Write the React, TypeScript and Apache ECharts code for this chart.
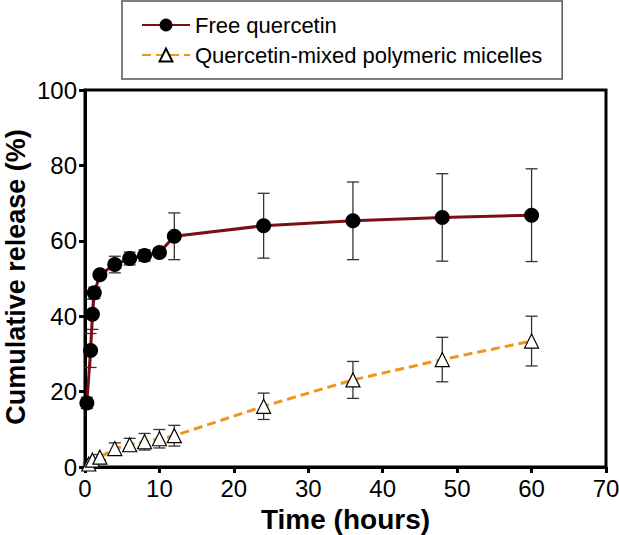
import React, { useEffect, useRef } from "react";
import * as echarts from "echarts";

const freeTimes = [0.25, 0.75, 1, 1.25, 2, 4, 6, 8, 10, 12, 24, 36, 48, 60];
const freeValues = [17, 30.9, 40.5, 46.2, 51, 53.7, 55.3, 56.1, 56.9, 61.2, 64.0, 65.3, 66.2, 66.8];
const freeErrors = [1.5, 4.5, 4, 1.5, 1, 2.2, 1.7, 1.5, 1.1, 6.2, 8.6, 10.3, 11.6, 12.3];

const micTimes = [0.5, 1, 2, 4, 6, 8, 10, 12, 24, 36, 48, 60];
const micValues = [0.8, 1.8, 2.6, 4.9, 5.9, 6.7, 7.5, 8.3, 16.1, 23.1, 28.5, 33.4];
const micErrors = [0.3, 0.4, 0.7, 1.5, 1.7, 2.2, 2.45, 2.75, 3.5, 4.9, 5.9, 6.6];

const xTicks = { min: 0, max: 70, interval: 10 };
const yTicks = { min: 0, max: 100, interval: 20 };

const seriesNames = ["Free quercetin", "Quercetin-mixed polymeric micelles"];
const xTitle = "Time (hours)";
const yTitle = "Cumulative release (%)";
const FONT = "'Liberation Sans', Arial, sans-serif";

function errorData(times: number[], vals: number[], errs: number[]) {
  return times.map((t, i) => [t, vals[i] - errs[i], vals[i] + errs[i]]);
}

function errorRender(params: any, api: any) {
  const x = api.value(0);
  const lo = api.value(1);
  const hi = api.value(2);
  const top = api.coord([x, hi]);
  const bot = api.coord([x, lo]);
  const hw = 6;
  const style = { stroke: "#333", lineWidth: 1.3 };
  return {
    type: "group",
    children: [
      { type: "line", shape: { x1: top[0], y1: top[1], x2: bot[0], y2: bot[1] }, style },
      { type: "line", shape: { x1: top[0] - hw, y1: top[1], x2: top[0] + hw, y2: top[1] }, style },
      { type: "line", shape: { x1: bot[0] - hw, y1: bot[1], x2: bot[0] + hw, y2: bot[1] }, style },
    ],
  };
}

export default function App() {
  const ref = useRef<HTMLDivElement>(null);
  useEffect(() => {
    if (!ref.current) return;
    const chart = echarts.init(ref.current, undefined, { renderer: "svg" });
    chart.setOption({
      animation: false,
      backgroundColor: "#fff",
      textStyle: { fontFamily: FONT },
      graphic: [
        {
          type: "text",
          x: 16,
          y: 277,
          rotation: Math.PI / 2,
          style: {
            text: yTitle,
            fontSize: 27,
            fontWeight: "bold",
            fontFamily: FONT,
            fill: "#000",
            align: "center",
            verticalAlign: "middle",
          },
        },
      ],
      legend: {
        data: seriesNames,
        orient: "vertical",
        left: 122,
        top: 1,
        itemWidth: 48,
        itemHeight: 16,
        itemGap: 8,
        padding: [13, 20, 13, 19],
        borderColor: "#555",
        borderWidth: 1.5,
        backgroundColor: "#fff",
        textStyle: { fontSize: 22, color: "#000", fontFamily: FONT },
      },
      grid: {
        left: 85,
        right: 13,
        top: 90,
        bottom: 68,
        outerBoundsMode: "none",
        containLabel: false,
        show: true,
        borderColor: "#000",
        borderWidth: 3,
        backgroundColor: "transparent",
      },
      xAxis: {
        type: "value",
        min: xTicks.min,
        max: xTicks.max,
        interval: xTicks.interval,
        name: xTitle,
        nameLocation: "middle",
        nameGap: 38,
        nameTextStyle: { fontSize: 28, fontWeight: "bold", color: "#000", fontFamily: FONT },
        axisLine: { lineStyle: { color: "#000", width: 3 } },
        axisTick: { show: true, length: 6, lineStyle: { color: "#000", width: 3 } },
        axisLabel: { fontSize: 24, color: "#000", margin: 9, fontFamily: FONT },
        splitLine: { show: false },
      },
      yAxis: {
        type: "value",
        min: yTicks.min,
        max: yTicks.max,
        interval: yTicks.interval,
        axisLine: { lineStyle: { color: "#000", width: 3 } },
        axisTick: { show: true, length: 6, lineStyle: { color: "#000", width: 3 } },
        axisLabel: { fontSize: 24, color: "#000", margin: 8, fontFamily: FONT },
        splitLine: { show: false },
      },
      series: [
        {
          name: "err1",
          type: "custom",
          renderItem: errorRender,
          data: errorData(freeTimes, freeValues, freeErrors),
          encode: { x: 0, y: [1, 2] },
          z: 1,
          silent: true,
        },
        {
          name: "err2",
          type: "custom",
          renderItem: errorRender,
          data: errorData(micTimes, micValues, micErrors),
          encode: { x: 0, y: [1, 2] },
          z: 1,
          silent: true,
        },
        {
          name: seriesNames[1],
          type: "line",
          data: micTimes.map((t, i) => [t, micValues[i]]),
          symbol: "triangle",
          symbolSize: 14,
          lineStyle: { color: "#f0961e", width: 3, type: [9, 5] },
          itemStyle: { color: "#fff", borderColor: "#000", borderWidth: 1.2 },
          z: 3,
        },
        {
          name: seriesNames[0],
          type: "line",
          data: freeTimes.map((t, i) => [t, freeValues[i]]),
          symbol: "circle",
          symbolSize: 15,
          lineStyle: { color: "#7a0f14", width: 3 },
          itemStyle: { color: "#000", borderColor: "#000", borderWidth: 0 },
          z: 4,
        },
      ],
    });
    return () => chart.dispose();
  }, []);
  return (
    <div
      ref={ref}
      style={{ position: "fixed", left: 0, top: 0, width: 619, height: 535 }}
    />
  );
}
